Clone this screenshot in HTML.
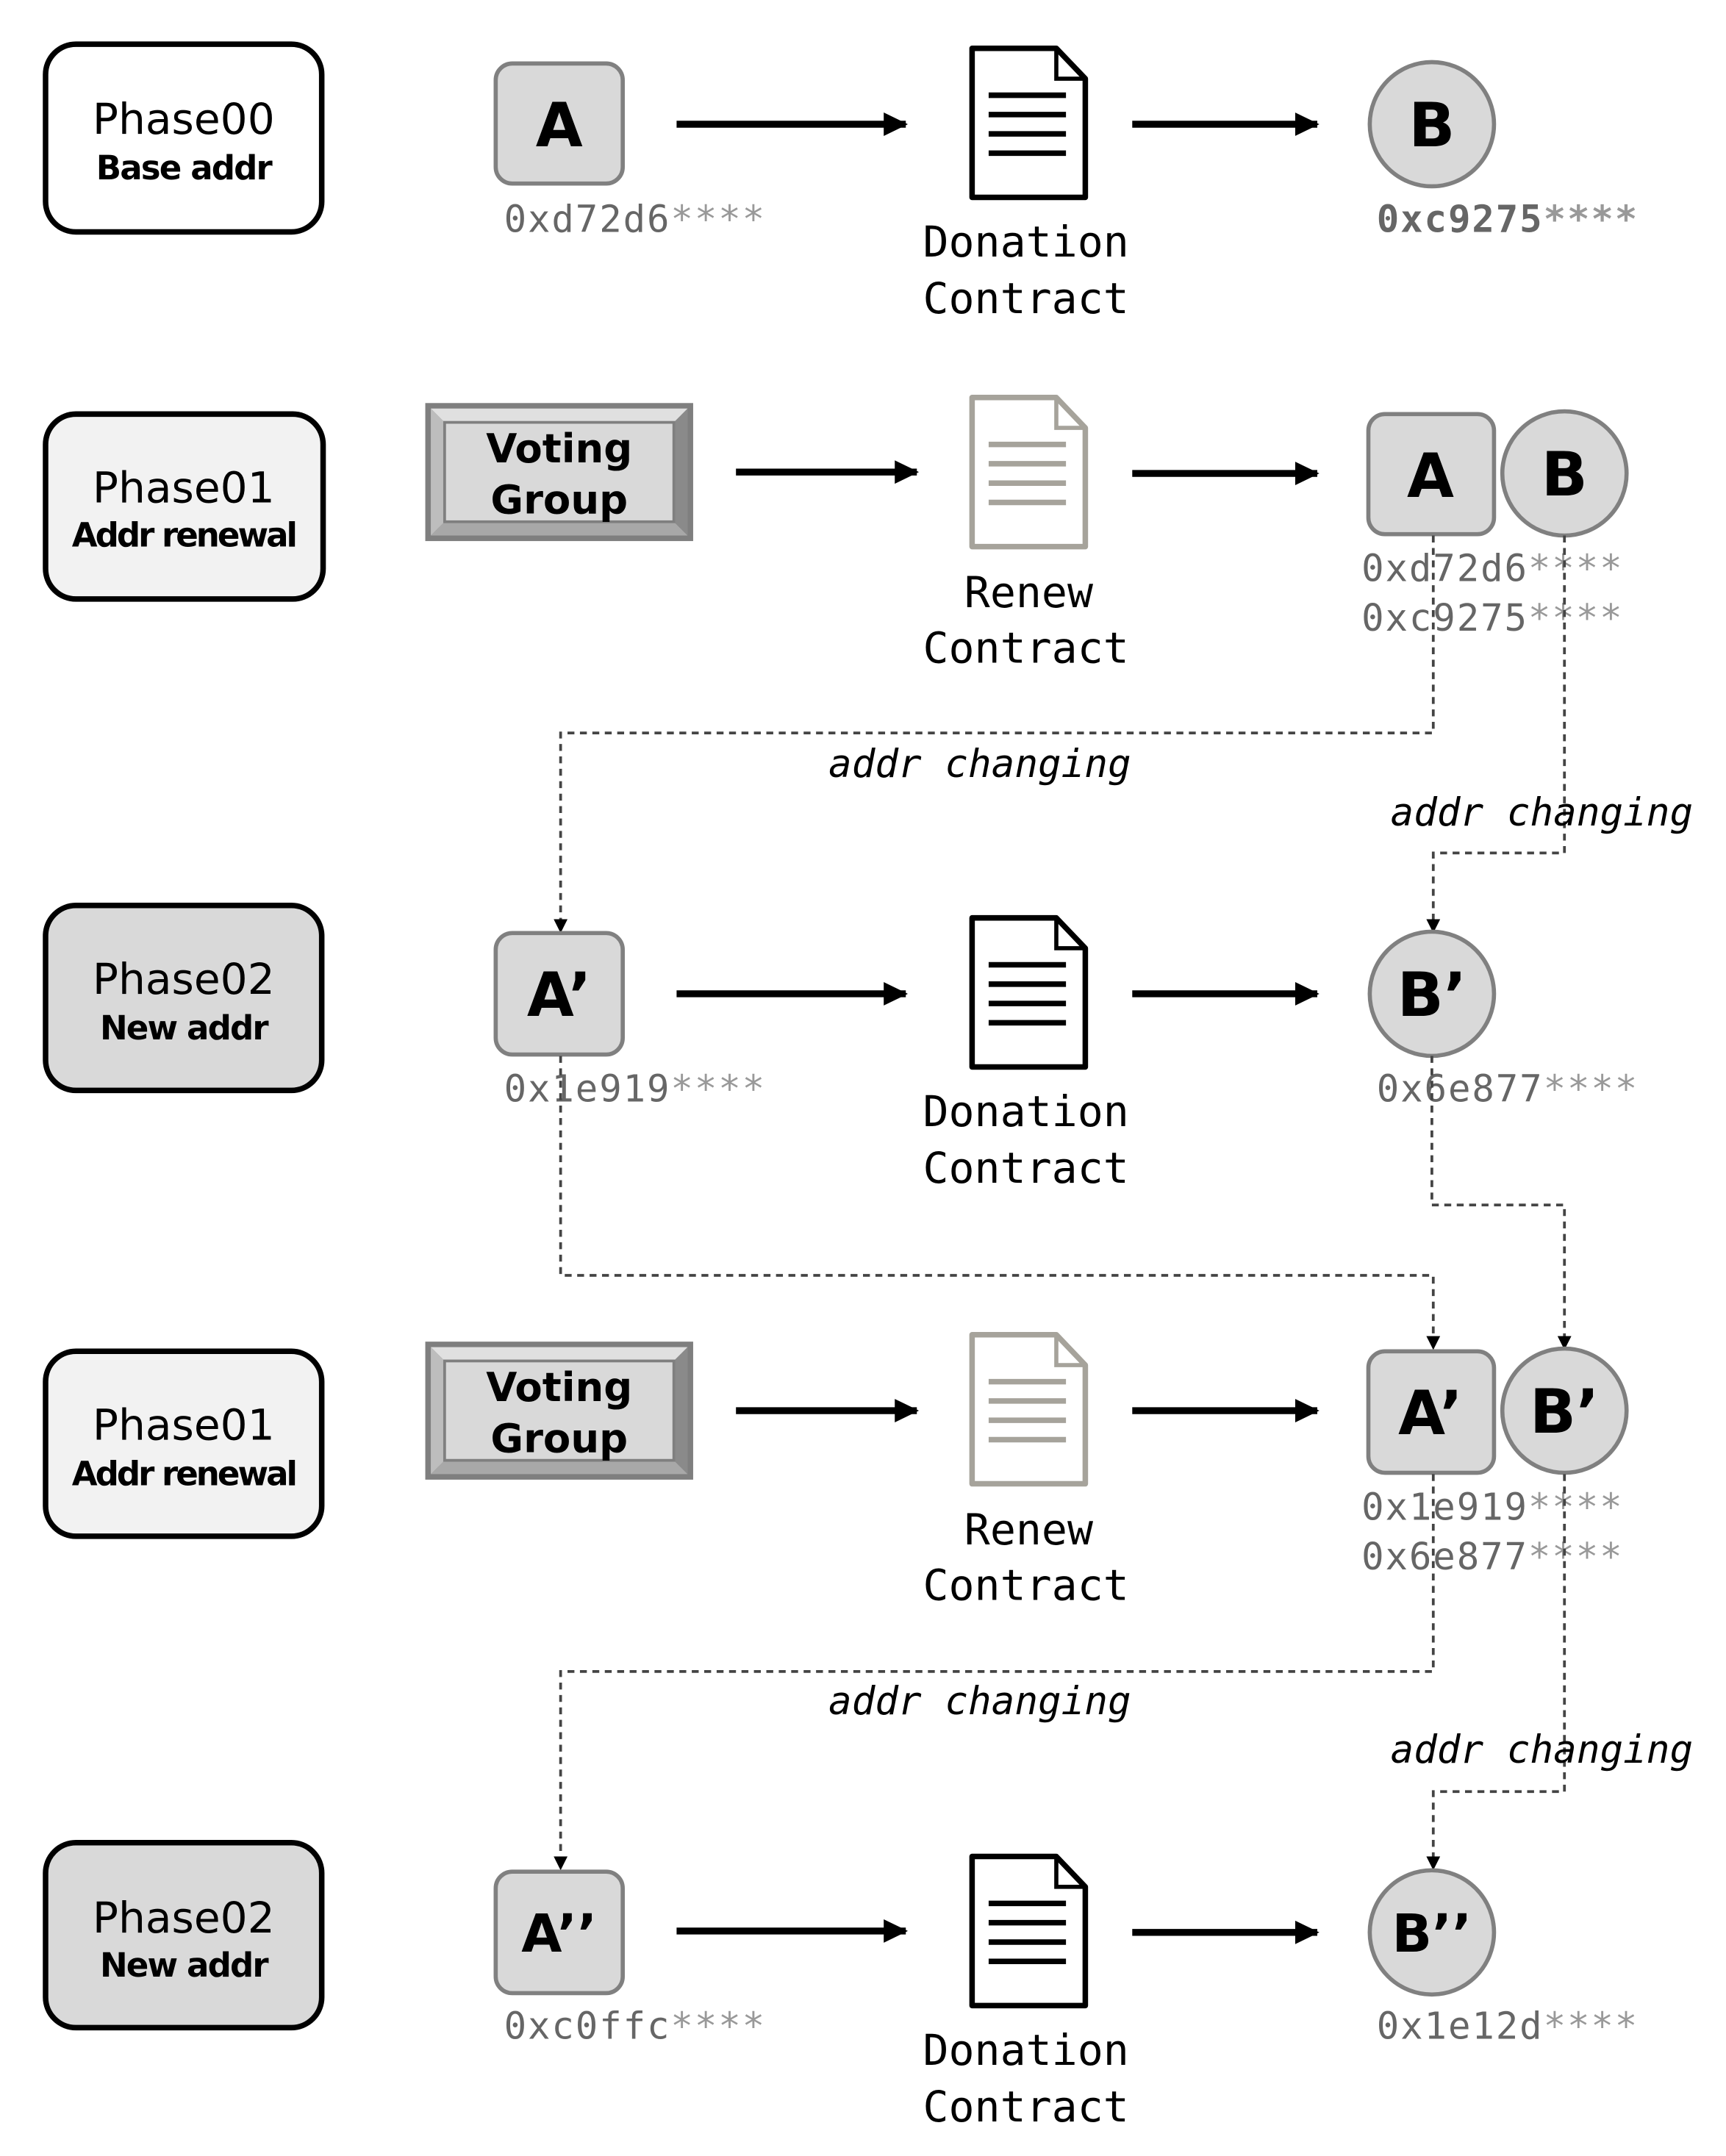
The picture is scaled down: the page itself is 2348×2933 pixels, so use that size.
<!DOCTYPE html>
<html><head><meta charset="utf-8"><style>
html,body{margin:0;padding:0;background:#fff;}
svg{display:block;}
.ph{font-family:"DejaVu Sans","Liberation Sans",sans-serif;font-size:31px;fill:#000;text-anchor:middle}
.ph2{font-family:"DejaVu Sans","Liberation Sans",sans-serif;font-size:24px;font-weight:bold;fill:#000;text-anchor:middle;letter-spacing:-1px}
.let{font-family:"DejaVu Sans","Liberation Sans",sans-serif;font-size:44px;font-weight:bold;fill:#000;text-anchor:middle}
.mono{font-family:"DejaVu Sans Mono","Liberation Mono",monospace;font-size:31px;fill:#000;text-anchor:middle}
.addr{font-family:"DejaVu Sans Mono","Liberation Mono",monospace;font-size:27px;fill:#666;letter-spacing:1px}
.ast{fill:#999}
.lab{font-family:"DejaVu Sans Mono","Liberation Mono",monospace;font-size:28px;font-style:italic;fill:#000}
.vg{font-family:"DejaVu Sans","Liberation Sans",sans-serif;font-size:29px;font-weight:bold;fill:#000;text-anchor:middle}
</style></head><body>
<svg width="2348" height="2933" viewBox="0 0 1250 1562" preserveAspectRatio="none" xmlns="http://www.w3.org/2000/svg">
<defs>
<marker id="ah" markerWidth="4" markerHeight="4" refX="3.2" refY="2" orient="auto" markerUnits="strokeWidth"><path d="M0,0.3 L3.5,2 L0,3.7 Z" fill="#000"/></marker>
<g id="doc"><path d="M704,35 L765,35 L786,57 L786,143 L704,143 Z" stroke-width="4" stroke-linejoin="round" fill="#fff"/><path d="M765,35 L765,57 L786,57" stroke-width="3" fill="none"/><g stroke-width="4"><line x1="716" y1="69" x2="772" y2="69"/><line x1="716" y1="83" x2="772" y2="83"/><line x1="716" y1="97" x2="772" y2="97"/><line x1="716" y1="111" x2="772" y2="111"/></g></g>
<g id="vg"><rect x="308" y="292" width="194" height="100" fill="#7f7f7f"/><polygon points="312,296 498,296 488,306 322,306" fill="#e0e0e0"/><polygon points="312,388 498,388 488,378 322,378" fill="#a8a8a8"/><polygon points="312,296 322,306 322,378 312,388" fill="#bdbdbd"/><polygon points="498,296 488,306 488,378 498,388" fill="#8a8a8a"/><rect x="322" y="306" width="166" height="72" fill="#d9d9d9" stroke="#7f7f7f" stroke-width="2"/></g>
</defs>

<rect x="33" y="32" width="200" height="136" rx="22" fill="#fff" stroke="#000" stroke-width="4"/>
<text class="ph" x="133" y="97">Phase00</text><text class="ph2" x="133" y="130">Base addr</text>
<rect x="33" y="300" width="201" height="134" rx="22" fill="#f2f2f2" stroke="#000" stroke-width="4"/>
<text class="ph" x="133" y="364">Phase01</text><text class="ph2" x="133" y="396" style="letter-spacing:-1.6px">Addr renewal</text>
<rect x="33" y="656" width="200" height="134" rx="22" fill="#d9d9d9" stroke="#000" stroke-width="4"/>
<text class="ph" x="133" y="720">Phase02</text><text class="ph2" x="133" y="753">New addr</text>
<rect x="33" y="979" width="200" height="134" rx="22" fill="#f2f2f2" stroke="#000" stroke-width="4"/>
<text class="ph" x="133" y="1043">Phase01</text><text class="ph2" x="133" y="1076" style="letter-spacing:-1.6px">Addr renewal</text>
<rect x="33" y="1335" width="200" height="134" rx="22" fill="#d9d9d9" stroke="#000" stroke-width="4"/>
<text class="ph" x="133" y="1400">Phase02</text><text class="ph2" x="133" y="1432">New addr</text>

<rect x="359" y="46" width="92" height="87" rx="12" fill="#d9d9d9" stroke="#808080" stroke-width="3"/>
<text class="let" x="405" y="106">A</text>
<text class="addr" x="365" y="168">0xd72d6<tspan class="ast">****</tspan></text>
<line x1="490" y1="90" x2="656" y2="90" stroke="#000" stroke-width="5" marker-end="url(#ah)"/>
<use href="#doc" stroke="#000"/>
<text class="mono" x="743" y="186">Donation</text><text class="mono" x="743" y="227">Contract</text>
<line x1="820" y1="90" x2="954" y2="90" stroke="#000" stroke-width="5" marker-end="url(#ah)"/>
<circle cx="1037" cy="90" r="45" fill="#d9d9d9" stroke="#808080" stroke-width="3"/>
<text class="let" x="1037" y="106">B</text>
<text class="addr" x="997" y="168" style="font-weight:bold">0xc9275<tspan class="ast">****</tspan></text>

<use href="#vg"/>
<text class="vg" x="405" y="335">Voting</text><text class="vg" x="405" y="372">Group</text>
<line x1="533" y1="342" x2="664" y2="342" stroke="#000" stroke-width="5" marker-end="url(#ah)"/>
<use href="#doc" stroke="#a6a39b" transform="translate(0,253)"/>
<text class="mono" x="745" y="440">Renew</text><text class="mono" x="743" y="480">Contract</text>
<line x1="820" y1="343" x2="954" y2="343" stroke="#000" stroke-width="5" marker-end="url(#ah)"/>
<rect x="991" y="300" width="91" height="87" rx="12" fill="#d9d9d9" stroke="#808080" stroke-width="3"/>
<text class="let" x="1036" y="360">A</text>
<circle cx="1133" cy="343" r="45" fill="#d9d9d9" stroke="#808080" stroke-width="3"/>
<text class="let" x="1133" y="359">B</text>
<text class="addr" x="986" y="421">0xd72d6<tspan class="ast">****</tspan></text>
<text class="addr" x="986" y="457">0xc9275<tspan class="ast">****</tspan></text>
<path d="M1038,388 V531 H406 V668" fill="none" stroke="#444" stroke-width="2" stroke-dasharray="5,4"/>
<path d="M401,666 L411,666 L406,676 Z" fill="#000"/>
<text class="lab" x="600" y="563">addr changing</text>
<path d="M1133,388 V618 H1038 V668" fill="none" stroke="#444" stroke-width="2" stroke-dasharray="5,4"/>
<path d="M1033,666 L1043,666 L1038,676 Z" fill="#000"/>
<text class="lab" x="1007" y="598">addr changing</text>

<rect x="359" y="676" width="92" height="88" rx="12" fill="#d9d9d9" stroke="#808080" stroke-width="3"/>
<text class="let" x="405" y="736">A’</text>
<text class="addr" x="365" y="798">0x1e919<tspan class="ast">****</tspan></text>
<line x1="490" y1="720" x2="656" y2="720" stroke="#000" stroke-width="5" marker-end="url(#ah)"/>
<use href="#doc" stroke="#000" transform="translate(0,630)"/>
<text class="mono" x="743" y="816">Donation</text><text class="mono" x="743" y="857">Contract</text>
<line x1="820" y1="720" x2="954" y2="720" stroke="#000" stroke-width="5" marker-end="url(#ah)"/>
<circle cx="1037" cy="720" r="45" fill="#d9d9d9" stroke="#808080" stroke-width="3"/>
<text class="let" x="1037" y="736">B’</text>
<text class="addr" x="997" y="798">0x6e877<tspan class="ast">****</tspan></text>
<path d="M406,765 V924 H1038 V970" fill="none" stroke="#444" stroke-width="2" stroke-dasharray="5,4"/>
<path d="M1033,968 L1043,968 L1038,978 Z" fill="#000"/>
<path d="M1037,765 V873 H1133 V970" fill="none" stroke="#444" stroke-width="2" stroke-dasharray="5,4"/>
<path d="M1128,968 L1138,968 L1133,978 Z" fill="#000"/>

<use href="#vg" transform="translate(0,680)"/>
<text class="vg" x="405" y="1015">Voting</text><text class="vg" x="405" y="1052">Group</text>
<line x1="533" y1="1022" x2="664" y2="1022" stroke="#000" stroke-width="5" marker-end="url(#ah)"/>
<use href="#doc" stroke="#a6a39b" transform="translate(0,932)"/>
<text class="mono" x="745" y="1119">Renew</text><text class="mono" x="743" y="1159">Contract</text>
<line x1="820" y1="1022" x2="954" y2="1022" stroke="#000" stroke-width="5" marker-end="url(#ah)"/>
<rect x="991" y="979" width="91" height="88" rx="12" fill="#d9d9d9" stroke="#808080" stroke-width="3"/>
<text class="let" x="1036" y="1039">A’</text>
<circle cx="1133" cy="1022" r="45" fill="#d9d9d9" stroke="#808080" stroke-width="3"/>
<text class="let" x="1133" y="1038">B’</text>
<text class="addr" x="986" y="1101">0x1e919<tspan class="ast">****</tspan></text>
<text class="addr" x="986" y="1137">0x6e877<tspan class="ast">****</tspan></text>
<path d="M1038,1068 V1211 H406 V1347" fill="none" stroke="#444" stroke-width="2" stroke-dasharray="5,4"/>
<path d="M401,1345 L411,1345 L406,1355 Z" fill="#000"/>
<text class="lab" x="600" y="1242">addr changing</text>
<path d="M1133,1068 V1298 H1038 V1347" fill="none" stroke="#444" stroke-width="2" stroke-dasharray="5,4"/>
<path d="M1033,1345 L1043,1345 L1038,1355 Z" fill="#000"/>
<text class="lab" x="1007" y="1277">addr changing</text>

<rect x="359" y="1356" width="92" height="88" rx="12" fill="#d9d9d9" stroke="#808080" stroke-width="3"/>
<text class="let" x="405" y="1414" style="font-size:38px">A’’</text>
<text class="addr" x="365" y="1477">0xc0ffc<tspan class="ast">****</tspan></text>
<line x1="490" y1="1399" x2="656" y2="1399" stroke="#000" stroke-width="5" marker-end="url(#ah)"/>
<use href="#doc" stroke="#000" transform="translate(0,1310)"/>
<text class="mono" x="743" y="1496">Donation</text><text class="mono" x="743" y="1537">Contract</text>
<line x1="820" y1="1400" x2="954" y2="1400" stroke="#000" stroke-width="5" marker-end="url(#ah)"/>
<circle cx="1037" cy="1400" r="45" fill="#d9d9d9" stroke="#808080" stroke-width="3"/>
<text class="let" x="1037" y="1414" style="font-size:38px">B’’</text>
<text class="addr" x="997" y="1477">0x1e12d<tspan class="ast">****</tspan></text>
</svg>
</body></html>
